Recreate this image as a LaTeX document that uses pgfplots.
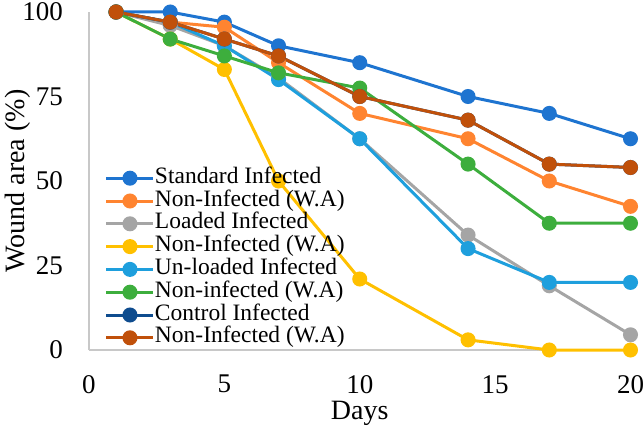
\documentclass[border=0pt]{standalone}
\usepackage{pgfplots}
\pgfplotsset{compat=1.18}
\usepackage{fontspec}
\setmainfont{Liberation Serif}
\definecolor{cStd}{HTML}{1E74D0}
\definecolor{cOra}{HTML}{FF8430}
\definecolor{cGry}{HTML}{A5A5A5}
\definecolor{cYel}{HTML}{FFC000}
\definecolor{cLbl}{HTML}{1E9FDD}
\definecolor{cGrn}{HTML}{3DAE3D}
\definecolor{cNav}{HTML}{0E4C8E}
\definecolor{cBrn}{HTML}{C0500A}
\definecolor{cAxis}{HTML}{C8C8C8}
\begin{document}
\begin{tikzpicture}
\begin{axis}[
  scale only axis, width=541.5bp, height=338bp,
  xmin=0, xmax=20, ymin=0, ymax=100,
  axis x line*=bottom, axis y line*=left,
  axis line style={draw=cAxis, line width=1.5bp, -},
  xtick={0,5,10,15,20}, ytick={0,25,50,75,100},
  major tick length=0pt,
  /pgf/number format/assume math mode=true,
  tick label style={font=\fontsize{27bp}{30bp}\selectfont, inner sep=0pt},
  xticklabel style={anchor=north, yshift=-25bp},
  yticklabel style={anchor=east, xshift=-26bp},
  xlabel={Days}, ylabel={Wound area (\%)},
  label style={font=\fontsize{28bp}{31bp}\selectfont, inner sep=0pt},
  xlabel style={at={(axis description cs:0.5,0)}, anchor=north, yshift=-51bp},
  ylabel style={at={(axis description cs:0,0.5)}, anchor=north, yshift=84bp},
  every axis plot/.append style={line width=3bp, mark=*, mark size=6bp},
  legend image code/.code={\draw[mark repeat=2,mark phase=2,#1] plot coordinates {(0bp,0bp) (23.5bp,0bp) (47bp,0bp)};},
  legend cell align=left,
  legend style={at={(axis description cs:0.0295,0.542)}, anchor=north west,
    draw=none, fill=none, inner sep=0pt, outer sep=0pt,
    font=\fontsize{23.5bp}{26bp}\selectfont,
    nodes={inner sep=0pt, text height=16.5bp, text depth=6.3bp},
    /tikz/every even column/.append style={column sep=5bp}},
  clip=false,
]
\addplot[color=cStd, mark options={fill=cStd, draw=cStd}] coordinates {(1,100) (3,100) (5,97) (7,90) (10,85) (14,75) (17,70) (20,62.5)};
\addlegendentry{Standard Infected}
\addplot[color=cOra, mark options={fill=cOra, draw=cOra}] coordinates {(1,100) (3,97) (5,95.5) (7,85) (10,70) (14,62.5) (17,50) (20,42.5)};
\addlegendentry{Non-Infected (W.A)}
\addplot[color=cGry, mark options={fill=cGry, draw=cGry}] coordinates {(1,100) (3,96) (5,90) (7,80.5) (10,62.5) (14,34) (17,19) (20,4.5)};
\addlegendentry{Loaded Infected}
\addplot[color=cYel, mark options={fill=cYel, draw=cYel}] coordinates {(1,100) (3,92) (5,83) (7,50) (10,21) (14,3) (17,0) (20,0)};
\addlegendentry{Non-Infected (W.A)}
\addplot[color=cLbl, mark options={fill=cLbl, draw=cLbl}] coordinates {(1,100) (3,97) (5,90) (7,80) (10,62.5) (14,30) (17,20) (20,20)};
\addlegendentry{Un-loaded Infected}
\addplot[color=cGrn, mark options={fill=cGrn, draw=cGrn}] coordinates {(1,100) (3,92) (5,87) (7,82) (10,77.5) (14,55) (17,37.5) (20,37.5)};
\addlegendentry{Non-infected (W.A)}
\addplot[color=cNav, mark options={fill=cNav, draw=cNav}] coordinates {(1,100) (3,97) (5,92) (7,87) (10,75) (14,68) (17,55) (20,54)};
\addlegendentry{Control Infected}
\addplot[color=cBrn, mark options={fill=cBrn, draw=cBrn}] coordinates {(1,100) (3,97) (5,92) (7,87) (10,75) (14,68) (17,55) (20,54)};
\addlegendentry{Non-Infected (W.A)}
\end{axis}
\pgfresetboundingbox
\path[use as bounding box] (-89bp,-83bp) rectangle (555bp,350bp);
\end{tikzpicture}
\end{document}
